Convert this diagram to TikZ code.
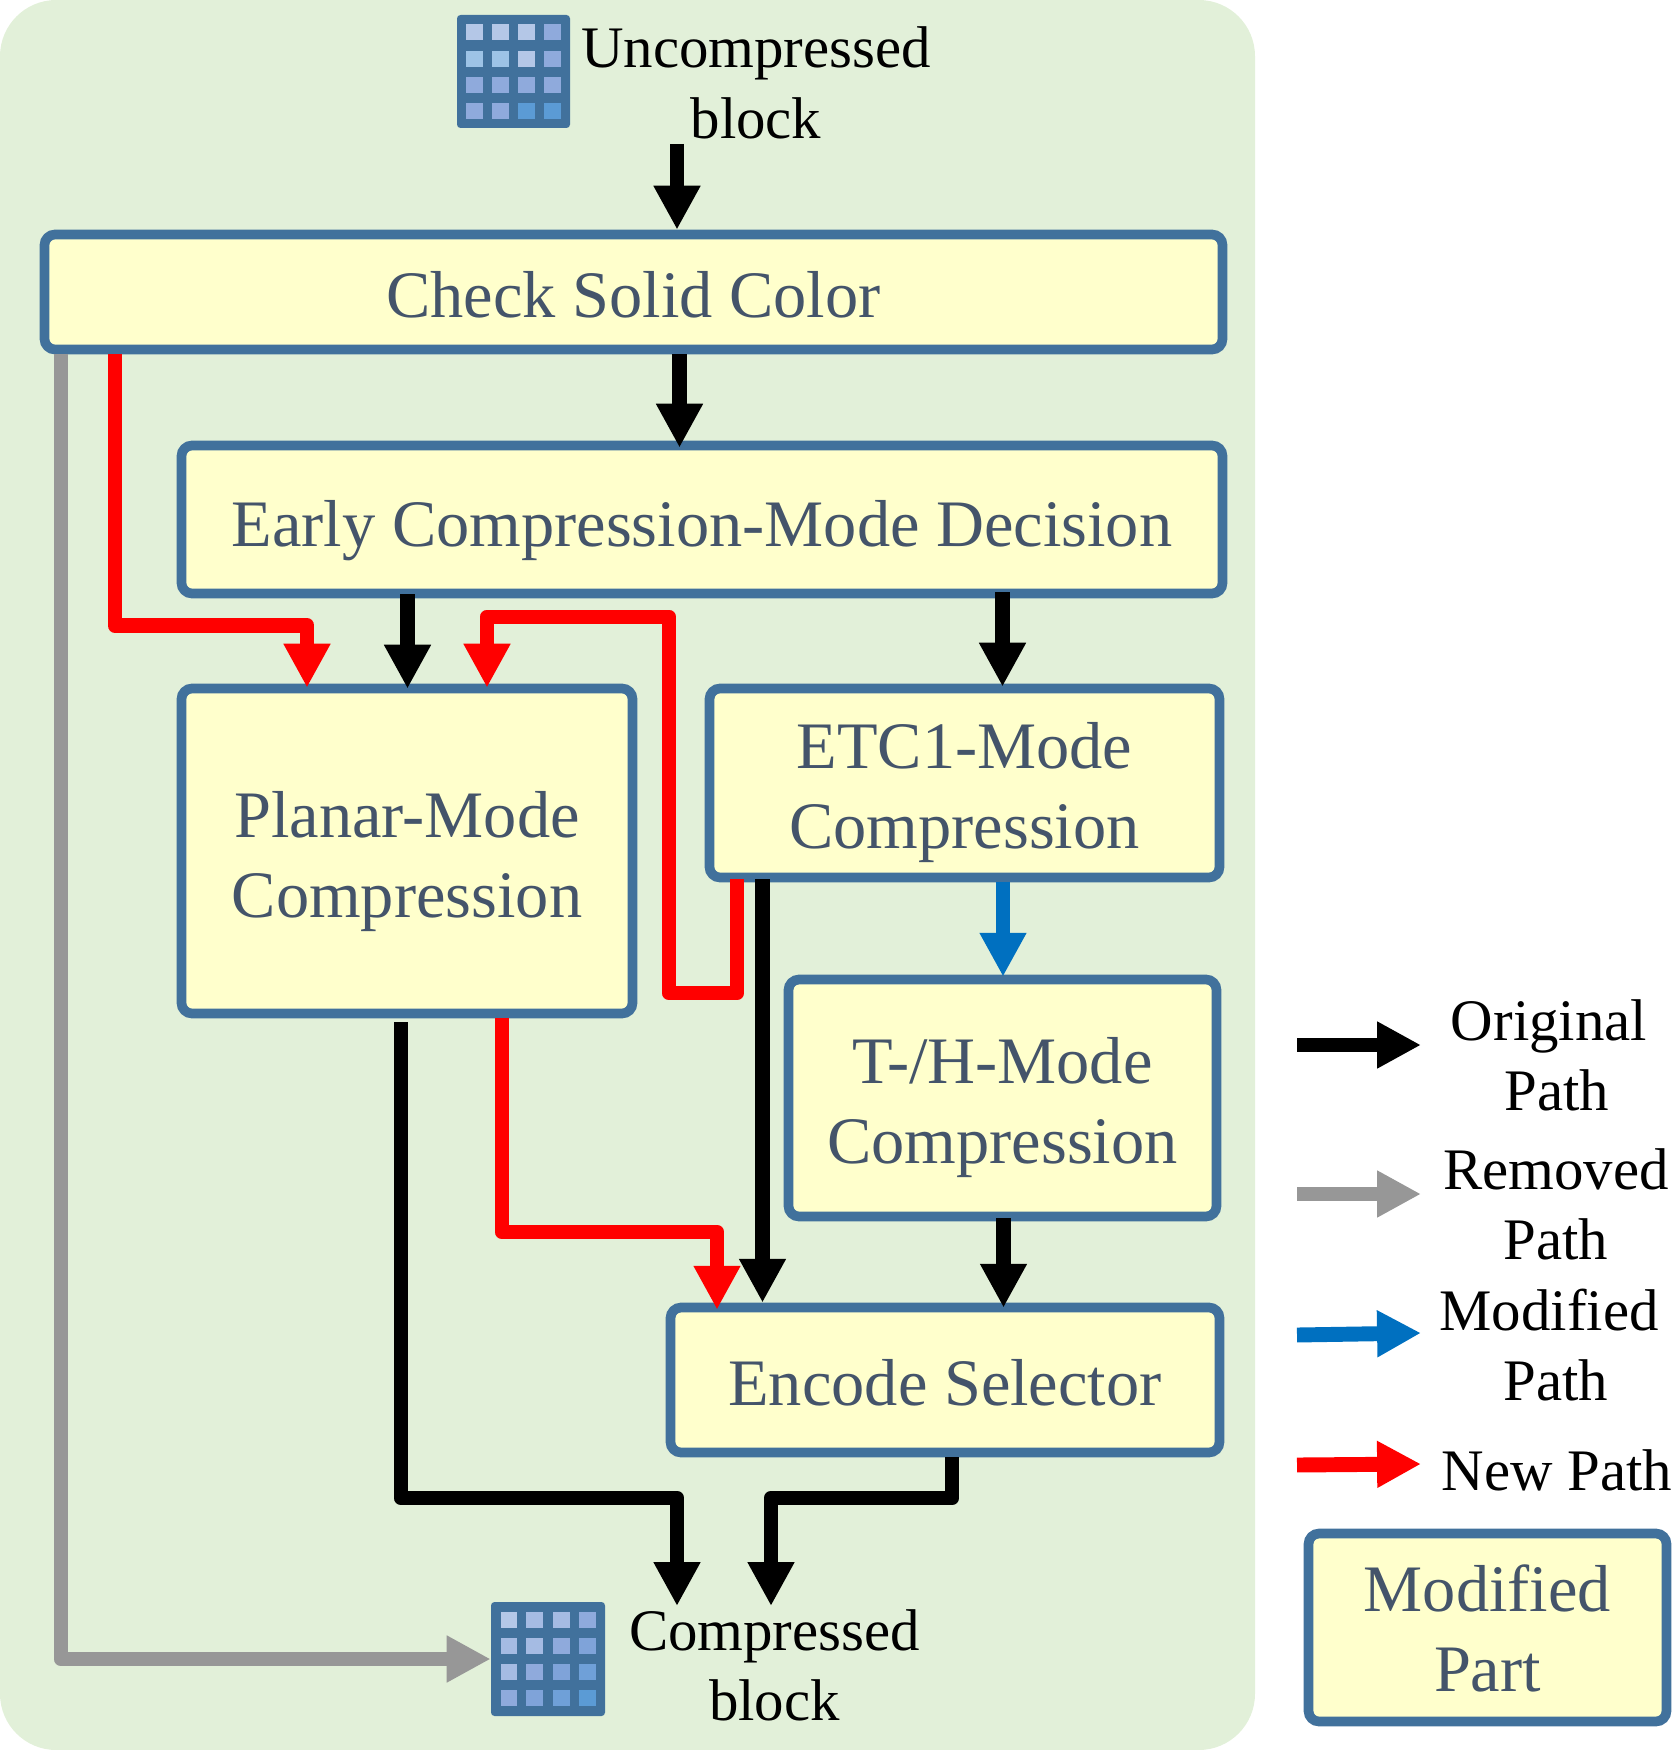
\documentclass[tikz,border=0pt]{standalone}
\usepackage{fontspec}
\setmainfont{Liberation Serif}
\usetikzlibrary{arrows.meta,calc}
\definecolor{bgc}{HTML}{E2F0D9}
\definecolor{boxfill}{HTML}{FFFFCC}
\definecolor{boxline}{HTML}{41719C}
\definecolor{boxtext}{HTML}{44546A}
\definecolor{blueline}{HTML}{0070C0}
\definecolor{grayline}{HTML}{979797}
\definecolor{cA}{HTML}{B4C7E7}
\definecolor{cB}{HTML}{9DC3E6}
\definecolor{cC}{HTML}{8FAADC}
\definecolor{cD}{HTML}{5B9BD5}
\definecolor{cE}{HTML}{A5BBE3}
\definecolor{cF}{HTML}{7FA3D9}
\definecolor{cG}{HTML}{6FA0D8}
\tikzset{
  x=0.02cm,y=-0.02cm,
  stagebox/.style={draw=boxline,fill=boxfill,line width=5.5pt,rounded corners=6pt,
    inner sep=0pt,align=center,text=boxtext,
    font=\fontsize{37.8}{45.5}\selectfont},
  label/.style={inner sep=0pt,align=center,text=black,
    font=\fontsize{33.5}{40}\selectfont},
  flow/.style={line width=8.5pt,line join=round,
    -{Triangle[width=25pt,length=25pt]}},
  orig/.style={flow,draw=black},
  removed/.style={flow,draw=grayline},
  modpath/.style={flow,draw=blueline},
  newpath/.style={flow,draw=red},
  iconbase/.style={fill=boxline,draw=none,rounded corners=2pt,inner sep=0pt},
}
% one cell of a block icon: colour, left, top
\newcommand{\cell}[3]{\fill[#1] (#2,#3) rectangle ++(16.6,16.4);}
% first-line strut that lowers the text inside a fixed-size box
\newcommand{\lowr}[1]{\rule{0pt}{#1pt}}
\begin{document}
\begin{tikzpicture}
\useasboundingbox (0,0) rectangle (1672,1750);
\fill[bgc,rounded corners=32pt] (0,0) rectangle (1255,1750);

% boxes
\node[stagebox,minimum width=1178*0.02cm,minimum height=115*0.02cm] (csc) at (633.5,292) {\lowr{29.8}Check Solid Color};
\node[stagebox,minimum width=1041*0.02cm,minimum height=148*0.02cm] (ecm) at (702,519.5) {\lowr{38.5}Early Compression-Mode Decision};
\node[stagebox,minimum width=451*0.02cm,minimum height=325*0.02cm] (plan) at (407,851) {\lowr{38.3}Planar-Mode\\Compression};
\node[stagebox,minimum width=510*0.02cm,minimum height=189*0.02cm] (etc) at (964.5,783) {\lowr{37.5}ETC1-Mode\\Compression};
\node[stagebox,minimum width=428*0.02cm,minimum height=237*0.02cm] (th) at (1002.5,1098) {\lowr{37.5}T-/H-Mode\\Compression};
\node[stagebox,minimum width=549*0.02cm,minimum height=145*0.02cm] (enc) at (945,1380) {\lowr{29.8}Encode Selector};
\node[stagebox,minimum width=358*0.02cm,minimum height=188*0.02cm] (mod) at (1487.5,1627.5) {\lowr{27.3}Modified\\Part};

% icons
\node[iconbase,minimum width=113*0.02cm,minimum height=113*0.02cm] (iconU) at (513.5,71.5) {};
\cell{cA}{466}{24}\cell{cA}{492.3}{24}\cell{cA}{518.3}{24}\cell{cC}{544.3}{24}
\cell{cB}{466}{50.7}\cell{cB}{492.3}{50.7}\cell{cA}{518.3}{50.7}\cell{cC}{544.3}{50.7}
\cell{cC}{466}{76.7}\cell{cC}{492.3}{76.7}\cell{cC}{518.3}{76.7}\cell{cC}{544.3}{76.7}
\cell{cC}{466}{102.7}\cell{cC}{492.3}{102.7}\cell{cD}{518.3}{102.7}\cell{cD}{544.3}{102.7}
\node[iconbase,minimum width=114*0.02cm,minimum height=114*0.02cm] (iconC) at (548,1659) {};
\cell{cA}{500.5}{1612}\cell{cE}{526.3}{1612}\cell{cE}{553}{1612}\cell{cC}{579}{1612}
\cell{cE}{500.5}{1638}\cell{cE}{526.3}{1638}\cell{cC}{553}{1638}\cell{cF}{579}{1638}
\cell{cE}{500.5}{1664}\cell{cC}{526.3}{1664}\cell{cF}{553}{1664}\cell{cG}{579}{1664}
\cell{cC}{500.5}{1690}\cell{cF}{526.3}{1690}\cell{cG}{553}{1690}\cell{cD}{579}{1690}

% labels
\node[label] (lu) at (756,83) {Uncompressed\\block};
\node[label] (lc) at (774.5,1665) {Compressed\\block};
\node[label] (l1) at (1549,1055) {Original\\\hspace*{9pt}Path};
\node[label] (l2) at (1556,1204) {Removed\\Path};
\node[label] (l3) at (1549,1345) {Modified\\\hspace*{8pt}Path};
\node[label] (l4) at (1557,1470) {New Path};

% routing coordinates
\coordinate (a0) at (677,144);
\coordinate (a1) at (679.5,0);
\coordinate (rx) at (115,625.5);
\coordinate (ry) at (307,625.5);
\coordinate (b1) at (407.5,0);
\coordinate (b2) at (1002.5,0);
\coordinate (r2a) at (737,993);
\coordinate (r2b) at (669,993);
\coordinate (r2c) at (669,617);
\coordinate (r2d) at (487,617);
\coordinate (e1) at (762.5,0);
\coordinate (bl) at (1003,0);
\coordinate (t1) at (1003.5,0);
\coordinate (p1a) at (401,1498);
\coordinate (p1b) at (677,1498);
\coordinate (p1c) at (677,1606);
\coordinate (p2a) at (502,1232);
\coordinate (p2b) at (717,1232);
\coordinate (s1a) at (952,1498);
\coordinate (s1b) at (771,1498);
\coordinate (s1c) at (771,1606);
\coordinate (gy) at (61,1659);

% connectors
\draw[orig] (a0) -- (a0 |- csc.north);
\draw[orig] (a1 |- csc.south) -- ($(a1 |- ecm.north)+(0,7)$);
\draw[removed] (gy |- csc.south) -- (gy) -- (iconC.west);
\draw[newpath] (rx |- csc.south) -- (rx) -- (ry) -- ($(ry |- plan.north)+(0,4)$);
\draw[orig] ($(b1 |- ecm.south)+(0,-4)$) -- ($(b1 |- plan.north)+(0,5)$);
\draw[orig] ($(b2 |- ecm.south)+(0,-6)$) -- ($(b2 |- etc.north)+(0,3)$);
\draw[newpath] ($(r2a |- etc.south)+(0,-3)$) -- (r2a) -- (r2b) -- (r2c) -- (r2d) -- ($(r2d |- plan.north)+(0,4)$);
\draw[orig] ($(e1 |- etc.south)+(0,-3)$) -- (e1 |- enc.north);
\draw[modpath] (bl |- etc.south) -- ($(bl |- th.north)+(0,2)$);
\draw[orig] ($(t1 |- th.south)+(0,-3)$) -- ($(t1 |- enc.north)+(0,5)$);
\draw[orig] ($(p1a |- plan.south)+(0,4)$) -- (p1a) -- (p1b) -- (p1c);
\draw[newpath] (p2a |- plan.south) -- (p2a) -- (p2b) -- ($(p2b |- enc.north)+(0,7)$);
\draw[orig] (s1a |- enc.south) -- (s1a) -- (s1b) -- (s1c);

% legend arrows
\coordinate (la1) at (1297,1045); \coordinate (lb1) at (1421,1045);
\coordinate (la2) at (1297,1194); \coordinate (lb2) at (1421,1194);
\coordinate (la3) at (1297,1335); \coordinate (lb3) at (1421,1333);
\coordinate (la4) at (1297,1465); \coordinate (lb4) at (1421,1464);
\draw[orig] (la1) -- (lb1);
\draw[removed] (la2) -- (lb2);
\draw[modpath] (la3) -- (lb3);
\draw[newpath] (la4) -- (lb4);
\end{tikzpicture}
\end{document}
